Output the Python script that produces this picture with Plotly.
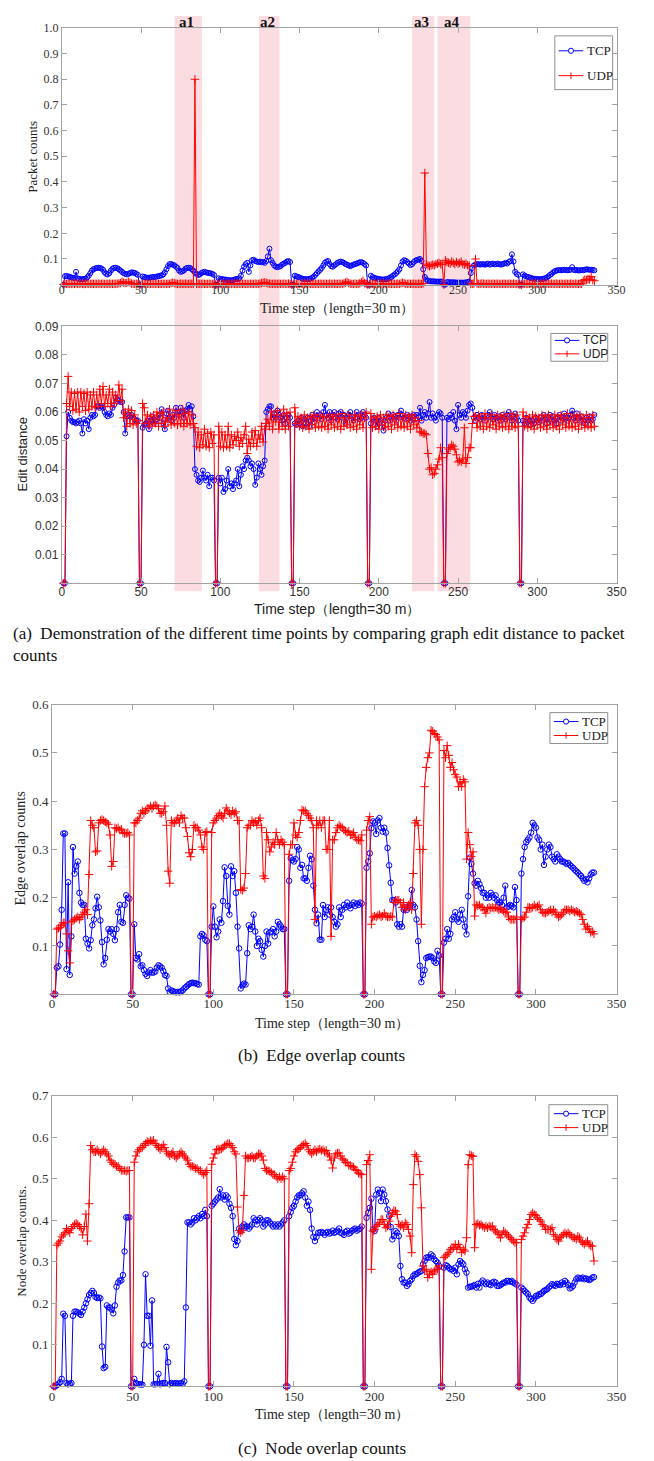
import plotly.graph_objects as go

W, H = 654, 1461
SERIF = "Liberation Serif, Times New Roman, serif"
SANS = "Liberation Sans, Arial, sans-serif"
BLUE = "#0000ff"
RED = "#ff0000"

steps = list(range(1, 337))
x_ticks = [0, 50, 100, 150, 200, 250, 300, 350]

# ---------------- data ----------------
# (a) top: packet counts, units of 0.001
tcp_packet = [
    0, 33, 34, 32, 30, 28, 27, 26, 50, 25,
    22, 21, 22, 22, 23, 28, 35, 45, 55, 60,
    63, 65, 66, 65, 63, 58, 48, 42, 40, 45,
    55, 62, 65, 66, 64, 60, 55, 50, 45, 42,
    40, 42, 45, 48, 47, 46, 42, 38, 0, 0,
    32, 30, 28, 27, 27, 28, 29, 30, 30, 32,
    33, 35, 36, 40, 48, 60, 72, 80, 80, 78,
    75, 70, 65, 55, 50, 52, 55, 62, 65, 66,
    65, 60, 55, 48, 42, 38, 40, 45, 48, 50,
    48, 46, 45, 44, 42, 38, 0, 0, 25, 22,
    22, 20, 20, 19, 18, 17, 17, 18, 20, 22,
    22, 25, 35, 55, 70, 80, 85, 50, 75, 95,
    97, 92, 90, 88, 90, 87, 88, 85, 92, 110,
    140, 95, 85, 75, 70, 68, 70, 72, 78, 82,
    85, 90, 92, 88, 0, 0, 35, 32, 30, 28,
    25, 23, 22, 21, 21, 22, 24, 27, 32, 38,
    45, 52, 58, 65, 75, 85, 90, 92, 80, 72,
    70, 75, 80, 85, 88, 90, 88, 85, 80, 78,
    75, 72, 75, 78, 80, 82, 85, 87, 88, 85,
    80, 75, 0, 0, 35, 30, 27, 25, 23, 22,
    21, 20, 20, 21, 22, 24, 27, 30, 35, 40,
    45, 52, 60, 75, 90, 95, 93, 88, 82, 76,
    80, 88, 93, 96, 98, 100, 92, 60, 30, 20,
    15, 14, 13, 13, 13, 12, 12, 12, 12, 12,
    0, 0, 10, 10, 9, 9, 9, 9, 8, 8,
    8, 8, 8, 8, 9, 10, 12, 45, 65, 75,
    78, 80, 80, 78, 80, 79, 78, 80, 82, 78,
    80, 82, 79, 80, 82, 80, 78, 80, 82, 85,
    82, 88, 92, 118, 90, 50, 42, 38, 0, 0,
    40, 35, 32, 30, 28, 26, 24, 23, 22, 22,
    21, 21, 22, 23, 25, 28, 32, 38, 42, 48,
    52, 55, 56, 57, 56, 57, 58, 57, 56, 57,
    58, 68, 58, 56, 57, 55, 56, 57, 56, 58,
    60, 59, 58, 58, 57, 56,
]
udp_packet = [
    0, 3, 3, 4, 3, 3, 4, 3, 5, 3,
    3, 4, 3, 3, 3, 4, 3, 3, 4, 3,
    3, 3, 4, 3, 3, 4, 3, 3, 3, 4,
    3, 3, 4, 3, 4, 5, 6, 12, 8, 6,
    7, 11, 8, 4, 3, 3, 4, 3, 0, 0,
    3, 3, 4, 3, 3, 3, 4, 3, 3, 4,
    3, 3, 3, 4, 3, 3, 4, 3, 6, 8,
    6, 4, 3, 3, 4, 3, 3, 4, 3, 3,
    4, 3, 3, 800, 3, 4, 3, 3, 4, 3,
    3, 3, 4, 3, 3, 4, 0, 0, 3, 3,
    4, 3, 3, 3, 4, 3, 3, 4, 3, 3,
    3, 4, 3, 3, 4, 3, 3, 3, 4, 3,
    3, 4, 3, 3, 4, 6, 8, 9, 7, 5,
    4, 3, 3, 4, 3, 3, 4, 3, 3, 4,
    3, 3, 4, 3, 0, 0, 3, 3, 4, 3,
    3, 3, 4, 3, 3, 4, 3, 3, 3, 4,
    3, 3, 4, 3, 3, 4, 3, 3, 4, 3,
    3, 4, 3, 3, 4, 3, 3, 5, 8, 11,
    6, 4, 3, 3, 4, 3, 3, 5, 9, 15,
    6, 4, 0, 0, 3, 3, 4, 3, 3, 4,
    3, 3, 4, 3, 3, 4, 3, 3, 4, 3,
    3, 4, 3, 5, 8, 6, 3, 3, 4, 3,
    3, 4, 3, 3, 4, 3, 3, 5, 435, 80,
    75, 72, 75, 78, 75, 80, 82, 85, 80, 78,
    0, 95, 88, 85, 82, 90, 85, 80, 88, 82,
    85, 90, 80, 78, 82, 76, 74, 3, 3, 4,
    100, 4, 3, 3, 5, 4, 3, 3, 4, 3,
    3, 4, 3, 3, 4, 3, 3, 3, 4, 3,
    3, 4, 3, 3, 4, 3, 3, 3, 0, 0,
    3, 4, 3, 3, 3, 4, 3, 3, 4, 3,
    3, 3, 4, 3, 3, 4, 3, 3, 4, 3,
    3, 4, 3, 3, 4, 3, 3, 4, 3, 3,
    4, 3, 3, 4, 3, 3, 4, 3, 15, 20,
    18, 22, 20, 32, 18, 15,
]

# (a) bottom: graph edit distance, units of 0.001
tcp_edit = [
    0, 0, 51.5, 60, 58, 57, 56.5, 56.5, 56, 56.5,
    57, 56, 52.5, 57.5, 56, 57, 54, 58, 59, 58.5,
    59, 62, 62, 61.5, 62, 61.5, 60, 59, 58.5, 59.5,
    59, 61.5, 62.5, 65, 64.5, 64, 63.5, 63.5, 60, 52.5,
    58.5, 59, 58.5, 59, 58, 57.5, 57, 57, 0, 0,
    54.5, 55.5, 56, 57, 54, 57, 58.5, 56, 57, 57.5,
    59, 58, 61, 56, 54, 59.5, 60.5, 58, 57, 59,
    58, 61.5, 60, 59, 61.5, 60, 58, 60.5, 61, 62.5,
    61, 62, 58.5, 40, 38, 36, 35.5, 37, 39.5, 37,
    36, 38, 34, 37, 37, 36, 0, 0, 37, 35,
    37, 32, 33, 36, 40, 34, 35, 33, 35, 36,
    40, 34, 38, 41, 40, 43, 44, 43, 41, 42,
    40, 34.5, 37, 42, 40, 38, 41, 43, 60, 61,
    62, 62, 58, 59.5, 58, 60.5, 59, 58, 57, 59,
    56, 58, 59, 58, 0, 0, 56, 55.5, 57, 56,
    58, 55, 57.5, 56, 58, 55, 57, 59, 56.5, 58,
    60, 58, 59, 57.5, 60, 62.5, 59, 58, 60, 57,
    59, 60, 58, 57.5, 59.5, 60, 58, 59, 56, 58,
    59, 60, 58.5, 57, 58, 60, 59, 57.5, 58, 60,
    59, 58, 0, 0, 56, 57.5, 58, 57, 55, 58,
    57, 56, 53.5, 57, 58, 59.5, 57, 58, 59, 58.5,
    57, 59, 58, 60.5, 59, 58, 57.5, 59, 58.5, 57,
    58.5, 59, 57.5, 59, 58.5, 61.5, 57, 59, 60, 58,
    59.5, 63.5, 58, 59.5, 58, 57, 59, 60, 59.5, 58,
    0, 0, 58, 57.5, 59, 58, 60, 57, 54, 62.5,
    59, 58, 60, 59.5, 58, 60.5, 62.5, 63, 61.5, 58,
    57, 59, 58, 57.5, 59, 58, 57, 58.5, 59, 60,
    58, 57.5, 59, 58, 57, 58.5, 57, 59, 58, 57.5,
    59, 60, 58, 57, 58.5, 59.5, 58, 57, 0, 0,
    57, 56, 58, 56.5, 57, 55.5, 57, 56, 58, 57,
    56.5, 58, 57, 59, 57.5, 56, 58, 59, 57, 58.5,
    57, 56, 58, 59, 57, 58, 59.5, 58, 57, 58,
    59, 60.5, 58, 57, 59.5, 58, 57, 58.5, 57, 56,
    58, 57, 58.5, 57, 57.5, 59,
]
udp_edit = [
    0, 0, 63, 72.5, 62, 67, 60.5, 66.5, 61, 67,
    60, 67, 62, 66.5, 60.5, 67, 61, 66, 62, 67,
    61.5, 66, 62, 68, 63, 69, 62, 66, 63, 68,
    62, 67, 63, 66, 64, 69.5, 64, 68, 58, 60,
    55, 61, 56, 60.5, 55.5, 59, 56, 57, 0, 0,
    63, 61.5, 56, 59, 55, 58.5, 55.5, 59, 56, 60,
    55, 59.5, 56, 60, 55, 58, 56.5, 61, 55.5, 59,
    56, 60.5, 55.5, 59, 56, 61, 55, 59.5, 56, 60,
    55.5, 59, 56, 54.5, 48, 53, 47.5, 52, 48.5, 54,
    48, 52.5, 47.5, 53, 49, 52, 0, 0, 55, 48,
    53, 47.5, 52, 48, 55, 47.5, 52, 48.5, 51.5, 50,
    53, 48, 51, 49, 52, 55, 45.5, 50.5, 48, 53,
    49, 53.5, 48, 52, 50.5, 55, 49.5, 54, 56, 57.5,
    55, 60, 54, 59, 56.5, 60.5, 54, 59, 55, 61,
    54, 59.5, 55, 60, 0, 0, 61.5, 56, 58.5, 55,
    58, 54.5, 59, 55, 58, 54, 58.5, 55.5, 59, 54.5,
    58, 55, 59, 54.5, 58.5, 55, 58, 54, 59, 55.5,
    58.5, 54.5, 59, 55, 58, 54, 59.5, 55, 58, 55.5,
    59, 54.5, 58, 55, 59, 54, 58.5, 55.5, 59, 54.5,
    58, 60, 0, 0, 59.5, 54.5, 58, 55, 58.5, 54,
    59, 55.5, 58, 54.5, 59, 55, 58.5, 54, 59, 55.5,
    58, 54.5, 59.5, 55, 58, 54.5, 59, 55, 58.5, 54,
    59, 55.5, 58, 54.5, 57, 53, 53, 52.5, 52.5, 52,
    45.5, 40, 40.5, 38, 38.5, 40, 41.5, 43.5, 47.5, 44,
    0, 0, 45.5, 47, 47.5, 48.5, 48, 47, 45, 42.5,
    43, 42.5, 43.5, 54.5, 42, 44, 47.5, 47.5, 56, 58.5,
    58.5, 54.5, 59, 55, 58, 54, 59.5, 55, 58, 54.5,
    59, 55.5, 58, 54, 59, 55, 58.5, 54.5, 59, 55,
    58, 54, 59.5, 55, 58.5, 54.5, 59, 55, 0, 0,
    60, 55, 58.5, 54.5, 58, 55, 59, 54, 58.5, 55.5,
    58, 54.5, 59, 55, 58.5, 54, 59, 55.5, 58, 54.5,
    59, 55, 58.5, 54, 59, 55.5, 58, 54.5, 59.5, 55,
    58, 54.5, 59, 55, 58.5, 54, 59, 55.5, 58, 54.5,
    59, 55, 58, 54.5, 59, 55,
]

# (b) edge overlap counts, units of 0.001
tcp_edge = [
    0, 0, 55, 58, 103, 175, 333, 333, 52, 232,
    40, 120, 305, 250, 265, 275, 210, 190, 185, 185,
    115, 105, 95, 112, 143, 155, 178, 202, 180, 153,
    108, 62, 75, 113, 135, 130, 135, 125, 112, 135,
    170, 185, 150, 148, 185, 205, 200, 198, 0, 0,
    145, 75, 72, 83, 58, 60, 50, 42, 38, 45,
    50, 45, 45, 47, 55, 60, 58, 55, 48, 40,
    38, 12, 5, 8, 6, 5, 4, 5, 4, 6,
    8, 12, 15, 18, 21, 23, 24, 23, 23, 21,
    20, 120, 125, 122, 113, 110, 0, 0, 140, 182,
    140, 118, 130, 155, 148, 193, 263, 245, 183, 165,
    265, 245, 255, 210, 140, 95, 12, 18, 22, 20,
    85, 143, 135, 140, 165, 130, 100, 115, 110, 92,
    78, 100, 130, 105, 128, 130, 135, 120, 130, 150,
    145, 140, 135, 135, 0, 0, 235, 282, 278, 275,
    280, 305, 300, 262, 268, 240, 240, 235, 262, 287,
    280, 225, 175, 147, 165, 113, 113, 185, 160, 175,
    180, 165, 180, 160, 150, 140, 145, 180, 160, 175,
    185, 180, 190, 183, 178, 185, 190, 183, 188, 185,
    190, 188, 0, 0, 262, 275, 292, 344, 358, 355,
    332, 360, 365, 345, 337, 345, 335, 303, 267, 231,
    195, 195, 190, 145, 140, 145, 140, 175, 180, 175,
    180, 185, 216, 185, 180, 155, 110, 59, 25, 40,
    50, 75, 77, 78, 78, 75, 68, 65, 90, 80,
    0, 0, 107, 115, 135, 115, 125, 155, 160, 170,
    155, 150, 165, 175, 155, 140, 124, 203, 283, 270,
    250, 230, 225, 235, 228, 220, 210, 210, 200, 205,
    200, 210, 205, 200, 205, 195, 190, 190, 185, 200,
    225, 180, 182, 185, 183, 180, 222, 195, 0, 0,
    250, 280, 305, 315, 320, 325, 335, 355, 350, 345,
    325, 320, 300, 310, 268, 285, 300, 310, 305, 285,
    280, 275, 290, 285, 280, 275, 275, 273, 270, 272,
    268, 265, 262, 258, 255, 252, 248, 245, 240, 235,
    238, 232, 240, 248, 252, 252,
]
udp_edge = [
    0, 0, 135, 137, 138, 143, 148, 148, 125, 90,
    65, 150, 152, 155, 158, 160, 155, 160, 165, 170,
    175, 165, 248, 360, 350, 345, 295, 297, 355, 360,
    362, 360, 357, 355, 352, 330, 265, 275, 345, 343,
    345, 340, 342, 335, 333, 333, 335, 330, 0, 0,
    355, 355, 360, 365, 375, 380, 375, 380, 385, 385,
    390, 385, 390, 392, 390, 385, 375, 375, 378, 390,
    350, 255, 230, 360, 355, 355, 360, 365, 355, 370,
    365, 365, 345, 327, 293, 285, 300, 350, 345, 345,
    340, 330, 305, 300, 335, 337, 0, 0, 335, 355,
    360, 365, 370, 375, 370, 365, 375, 386, 380, 375,
    372, 380, 375, 378, 360, 360, 217, 215, 220, 250,
    345, 350, 350, 360, 355, 358, 350, 360, 365, 345,
    245, 240, 335, 320, 295, 305, 315, 310, 335, 320,
    310, 320, 315, 310, 0, 0, 290, 310, 310, 355,
    330, 325, 335, 360, 382, 380, 380, 375, 370, 365,
    360, 345, 155, 360, 350, 360, 345, 360, 360, 300,
    300, 360, 120, 320, 320, 335, 345, 350, 347, 345,
    340, 338, 335, 338, 330, 330, 335, 325, 320, 320,
    318, 330, 0, 0, 340, 360, 368, 145, 160, 162,
    160, 163, 165, 160, 162, 168, 162, 160, 160, 162,
    160, 190, 195, 195, 195, 190, 180, 190, 175, 180,
    185, 190, 175, 250, 355, 360, 350, 300, 145, 300,
    430, 470, 490, 500, 547, 545, 540, 538, 533, 527,
    0, 0, 505, 490, 515, 495, 470, 480, 465, 455,
    450, 430, 440, 430, 445, 440, 280, 335, 310, 285,
    295, 162, 185, 183, 185, 180, 180, 175, 168, 178,
    180, 178, 180, 178, 180, 178, 175, 177, 175, 172,
    170, 170, 160, 155, 155, 155, 155, 160, 0, 0,
    155, 158, 160, 170, 180, 180, 178, 180, 185, 180,
    182, 185, 175, 170, 168, 168, 170, 172, 175, 170,
    175, 170, 165, 160, 162, 165, 170, 175, 175, 175,
    172, 175, 173, 170, 172, 170, 168, 165, 155, 145,
    135, 140, 135, 128, 130, 125,
]

# (c) node overlap counts, units of 0.001
tcp_node = [
    0, 0, 3, 6, 10, 18, 175, 170, 8, 5,
    6, 8, 170, 180, 180, 178, 175, 172, 180, 190,
    200, 210, 220, 225, 230, 225, 215, 213, 214, 212,
    96, 44, 47, 195, 190, 190, 185, 176, 195, 240,
    250, 255, 255, 268, 325, 407, 407, 407, 0, 0,
    18, 8, 6, 5, 5, 4, 100, 270, 170, 170,
    98, 207, 5, 5, 6, 30, 5, 7, 8, 8,
    95, 58, 5, 8, 6, 7, 8, 6, 7, 8,
    6, 12, 190, 395, 395, 390, 395, 405, 400, 405,
    410, 405, 415, 410, 425, 410, 0, 0, 435, 440,
    445, 450, 455, 475, 455, 460, 450, 460, 455, 440,
    430, 410, 355, 340, 350, 380, 375, 385, 390, 385,
    385, 380, 385, 390, 405, 400, 390, 400, 405, 400,
    385, 390, 400, 400, 395, 390, 385, 390, 385, 390,
    385, 390, 395, 400, 0, 0, 410, 420, 430, 435,
    445, 455, 460, 460, 465, 470, 455, 435, 445, 425,
    380, 360, 350, 360, 370, 370, 372, 370, 365, 370,
    372, 368, 370, 375, 370, 372, 375, 380, 370, 368,
    365, 372, 375, 368, 370, 375, 378, 380, 375, 378,
    380, 385, 0, 0, 406, 418, 430, 452, 378, 374,
    462, 474, 466, 446, 474, 462, 446, 426, 410, 384,
    354, 362, 374, 370, 362, 290, 258, 250, 250, 242,
    246, 254, 258, 266, 270, 270, 274, 276, 278, 294,
    302, 310, 311, 310, 318, 314, 306, 302, 298, 290,
    0, 0, 286, 292, 290, 286, 282, 282, 278, 286,
    270, 294, 302, 298, 294, 282, 274, 238, 240, 240,
    242, 244, 238, 247, 238, 250, 255, 250, 246, 250,
    246, 244, 250, 252, 250, 242, 242, 244, 247, 250,
    250, 254, 254, 252, 254, 250, 248, 245, 0, 0,
    238, 234, 230, 226, 222, 214, 210, 206, 212, 218,
    218, 222, 222, 226, 230, 232, 234, 238, 242, 246,
    244, 242, 247, 246, 244, 250, 246, 254, 250, 244,
    236, 238, 242, 250, 258, 262, 260, 260, 262, 258,
    260, 258, 256, 258, 262, 263,
]
udp_node = [
    0, 0, 340, 345, 350, 360, 365, 370, 380, 375,
    370, 380, 385, 390, 393, 390, 385, 380, 365, 385,
    415, 350, 440, 580, 570, 565, 565, 570, 565, 560,
    565, 570, 565, 560, 555, 545, 540, 535, 535, 530,
    530, 525, 520, 520, 520, 518, 520, 520, 0, 0,
    540, 555, 565, 570, 575, 575, 580, 585, 590, 588,
    592, 590, 593, 585, 580, 575, 570, 575, 582, 575,
    565, 560, 555, 560, 565, 555, 550, 555, 560, 565,
    560, 555, 550, 545, 535, 530, 530, 528, 525, 525,
    520, 520, 515, 510, 515, 520, 0, 0, 535, 550,
    560, 570, 572, 570, 572, 575, 580, 582, 585, 585,
    580, 575, 565, 560, 432, 375, 370, 375, 460, 555,
    550, 550, 552, 555, 550, 550, 555, 560, 560, 555,
    545, 525, 520, 520, 518, 515, 510, 510, 505, 500,
    505, 500, 505, 500, 0, 0, 520, 525, 540, 555,
    565, 570, 572, 575, 580, 582, 585, 580, 570, 565,
    560, 565, 570, 565, 570, 572, 568, 570, 565, 568,
    560, 555, 545, 526, 550, 560, 562, 562, 555, 548,
    545, 540, 538, 532, 532, 530, 528, 522, 520, 514,
    512, 510, 0, 0, 534, 544, 558, 282, 374, 378,
    386, 390, 394, 402, 402, 390, 382, 386, 398, 410,
    418, 424, 422, 414, 390, 386, 390, 382, 394, 390,
    378, 362, 322, 486, 558, 554, 542, 510, 430, 290,
    278, 282, 262, 270, 276, 270, 278, 282, 282, 290,
    0, 0, 310, 314, 318, 322, 330, 334, 334, 342,
    330, 342, 334, 322, 330, 326, 358, 534, 558, 556,
    554, 334, 390, 392, 388, 390, 386, 382, 386, 382,
    386, 384, 386, 378, 374, 370, 366, 358, 366, 374,
    370, 366, 362, 358, 354, 350, 346, 346, 0, 0,
    354, 362, 370, 382, 390, 402, 414, 418, 414, 412,
    406, 402, 398, 390, 386, 378, 378, 378, 378, 382,
    366, 362, 354, 350, 358, 362, 366, 370, 366, 370,
    366, 362, 358, 358, 354, 362, 358, 350, 346, 342,
    346, 350, 342, 338, 338, 302,
]

# highlighted intervals (time steps) and their labels
shade_ranges = [(71.1, 88.4), (124.3, 137.3), (221.0, 235.0), (237.0, 257.7)]
shade_labels = ["a1", "a2", "a3", "a4"]

packet_yticks = [0.1, 0.2, 0.3, 0.4, 0.5, 0.6, 0.7, 0.8, 0.9, 1.0]
edit_yticks = [0.01, 0.02, 0.03, 0.04, 0.05, 0.06, 0.07, 0.08, 0.09]
edge_yticks = [0.1, 0.2, 0.3, 0.4, 0.5, 0.6]
node_yticks = [0.1, 0.2, 0.3, 0.4, 0.5, 0.6, 0.7]

for arr in (tcp_packet, udp_packet, tcp_edit, udp_edit, tcp_edge, udp_edge, tcp_node, udp_node):
    assert len(arr) == len(steps), len(arr)


def scaled(vals):
    return [v / 1000 for v in vals]


def px(x):
    return x / W


def py(y):
    return 1 - y / H


# ---------------- panels ----------------
panels = [
    dict(tcp=tcp_packet, udp=udp_packet, yr=1.0, yt=packet_yticks, fmt=".1f",
         font=SERIF, tsize=12, box=(60, 626, 21, 279), msize=5, xstand=-6),
    dict(tcp=tcp_edit, udp=udp_edit, yr=0.09, yt=edit_yticks, fmt=".2f",
         font=SANS, tsize=12, box=(60, 626, 321, 579), msize=5, xstand=-3),
    dict(tcp=tcp_edge, udp=udp_edge, yr=0.6, yt=edge_yticks, fmt=".1f",
         font=SERIF, tsize=13, box=(50, 626, 701, 992), msize=5.5, xstand=-3),
    dict(tcp=tcp_node, udp=udp_node, yr=0.7, yt=node_yticks, fmt=".1f",
         font=SERIF, tsize=13, box=(50, 626, 1094, 1386), msize=5.5, xstand=-2),
]

fig = go.Figure()
layout = {}
AXC = "#a3a3a3"
for i, p in enumerate(panels, start=1):
    sfx = "" if i == 1 else str(i)
    l, r, t, b = p["box"]
    common = dict(showline=True, linecolor=AXC, linewidth=1, mirror="ticks",
                  ticks="inside", ticklen=5, tickcolor=AXC, tickwidth=1,
                  showgrid=False, zeroline=False,
                  tickfont=dict(family=p["font"], size=p["tsize"], color="#333333"))
    layout["xaxis" + sfx] = dict(domain=[px(l), px(r)], anchor="y" + sfx, range=[0, 350],
                                 tickvals=x_ticks, ticklabelstandoff=p["xstand"], **common)
    layout["yaxis" + sfx] = dict(domain=[py(b), py(t)], anchor="x" + sfx, range=[0, p["yr"]],
                                 tickvals=p["yt"], tickformat=p["fmt"], **common)
    fig.add_trace(go.Scatter(
        x=steps, y=scaled(p["tcp"]), xaxis="x" + sfx, yaxis="y" + sfx, mode="lines+markers",
        line=dict(color=BLUE, width=1), cliponaxis=False, showlegend=False,
        marker=dict(symbol="circle-open", size=p["msize"], color=BLUE, line=dict(width=1, color=BLUE))))
    fig.add_trace(go.Scatter(
        x=steps, y=scaled(p["udp"]), xaxis="x" + sfx, yaxis="y" + sfx, mode="lines+markers",
        line=dict(color=RED, width=1), cliponaxis=False, showlegend=False,
        marker=dict(symbol="cross-thin-open", size=6, color=RED, line=dict(width=1, color=RED))))

fig.update_layout(**layout)

# shaded intervals spanning panels (a) top and bottom
for (s0, s1), lab in zip(shade_ranges, shade_labels):
    fig.add_shape(type="rect", xref="x", yref="paper", x0=s0, x1=s1, y0=py(587), y1=py(9),
                  fillcolor="#fbdde1", line=dict(width=0), layer="below")
    fig.add_annotation(x=(s0 + s1) / 2 - 1.2, y=py(15), xref="x", yref="paper", text="<b>%s</b>" % lab,
                       showarrow=False, font=dict(family=SERIF, size=15, color="#111111"),
                       xanchor="center", yanchor="middle")

annos = []


def text(x, y, s, family, size, angle=0, xanchor="center", color="#222222"):
    annos.append(dict(x=px(x), y=py(y), xref="paper", yref="paper", text=s, showarrow=False,
                      textangle=angle, xanchor=xanchor, yanchor="middle",
                      font=dict(family=family, size=size, color=color)))


xt = "Time step\uff08length=30 m\uff09"
text(341, 303, xt, SERIF, 14)
text(341, 605, xt, SANS, 14)
text(336, 1021, xt, SERIF, 14)
text(336, 1414, xt, SERIF, 14)
text(30, 150, "Packet counts", SERIF, 13, -90)
text(20, 450, "Edit distance", SANS, 13, -90)
text(18, 846, "Edge overlap counts", SERIF, 14, -90)
text(18, 1240, "Node overlap counts.", SERIF, 13, -90)

text(8, 630, "(a)\u00a0 Demonstration of the different time points by comparing graph edit distance to packet",
     SERIF, 17, xanchor="left", color="#111111")
text(8, 652, "counts", SERIF, 17, xanchor="left", color="#111111")
text(325, 1054, "(b)\u00a0 Edge overlap counts", SERIF, 17, color="#111111")
text(325, 1448, "(c)\u00a0 Node overlap counts", SERIF, 17, color="#111111")


# ---------------- hand-drawn legends (matching MATLAB boxes) ----------------
def legend(box, rows_y, line_x, text_x, family, size):
    x0, x1, y0, y1 = box
    fig.add_shape(type="rect", xref="paper", yref="paper", x0=px(x0), x1=px(x1), y0=py(y1), y1=py(y0),
                  line=dict(color="#8f8f8f", width=1), fillcolor="white", layer="above")
    for (name, color, sym), yc in zip([("TCP", BLUE, "o"), ("UDP", RED, "+")], rows_y):
        fig.add_shape(type="line", xref="paper", yref="paper", x0=px(line_x[0]), x1=px(line_x[1]),
                      y0=py(yc), y1=py(yc), line=dict(color=color, width=1), layer="above")
        cx = (line_x[0] + line_x[1]) / 2
        if sym == "o":
            fig.add_shape(type="circle", xref="paper", yref="paper", x0=px(cx - 2.6), x1=px(cx + 2.6),
                          y0=py(yc + 2.6), y1=py(yc - 2.6), line=dict(color=color, width=1),
                          fillcolor="white", layer="above")
        else:
            fig.add_shape(type="line", xref="paper", yref="paper", x0=px(cx), x1=px(cx),
                          y0=py(yc + 3.2), y1=py(yc - 3.2), line=dict(color=color, width=1), layer="above")
        text(text_x, yc, name, family, size, xanchor="left", color="#222222")


legend((563, 622, 29, 83), (44, 69), (567, 592), (594), SERIF, 13)
legend((559, 617, 328, 356), (335, 348.5), (563, 588), (590), SANS, 12)
legend((558, 617, 709, 740), (718, 732), (562, 587), (589), SERIF, 13)
legend((557, 617, 1103, 1134), (1112, 1126), (562, 587), (589), SERIF, 13)

fig.update_layout(
    width=W, height=H, margin=dict(l=0, r=0, t=0, b=0),
    paper_bgcolor="white", plot_bgcolor="rgba(0,0,0,0)",
    annotations=list(fig.layout.annotations) + annos,
    showlegend=False,
)

fig.write_html("out.html")
